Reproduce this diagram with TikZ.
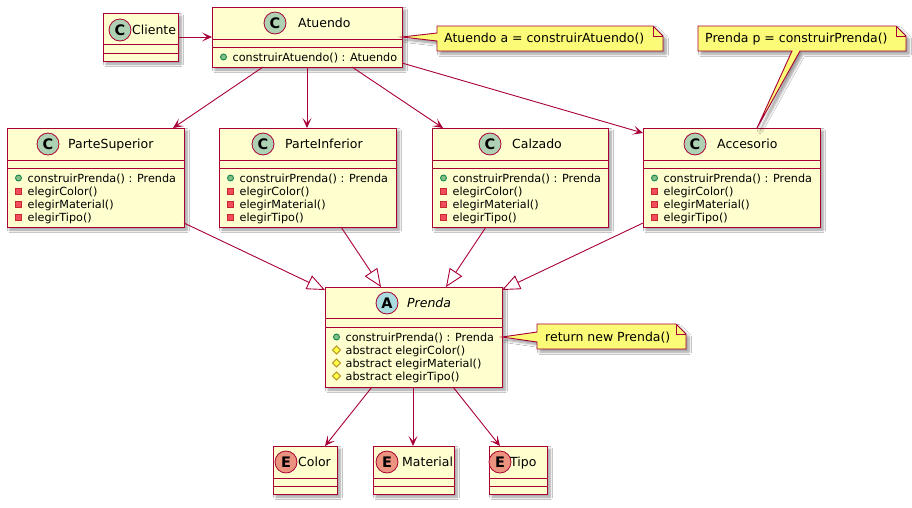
\documentclass[tikz,border=0pt]{standalone}
\usepackage{fontspec}
\setmainfont{DejaVu Sans}
\usetikzlibrary{arrows.meta,shadows.blur}
\definecolor{umlline}{HTML}{A80036}
\definecolor{umlfill}{HTML}{FEFECE}
\definecolor{notefill}{HTML}{FBFB77}
\definecolor{cfill}{HTML}{ADD1B2}
\definecolor{afill}{HTML}{A9DCDF}
\definecolor{efill}{HTML}{EB937F}
\definecolor{pubfill}{HTML}{84BE84}
\definecolor{pubdraw}{HTML}{038048}
\definecolor{privfill}{HTML}{F24D5C}
\definecolor{privdraw}{HTML}{C82930}
\definecolor{protfill}{HTML}{FFFF44}
\definecolor{protdraw}{HTML}{B38D22}
\tikzset{
  umlshadow/.style={blur shadow={shadow xshift=3pt, shadow yshift=-3pt, shadow blur radius=2.5pt, shadow blur steps=6, shadow opacity=40}},
  classbox/.style={rectangle, draw=umlline, fill=umlfill, line width=0.9pt, inner sep=0pt, outer sep=0pt, umlshadow},
  divline/.style={draw=umlline, line width=0.9pt},
  notebox/.style={draw=umlline, fill=notefill, line width=0.9pt, line join=miter, umlshadow},
  foldline/.style={draw=umlline, line width=0.9pt},
  anchorbox/.style={rectangle, inner sep=0pt, outer sep=0pt},
  stereo/.style={draw=umlline, line width=0.8pt},
  letter/.style={inner sep=0pt, font=\fontsize{14.5}{15}\selectfont\bfseries},
  ctitle/.style={inner sep=0pt, anchor=base west, font=\fontsize{12.5}{14}\selectfont},
  mtext/.style={inner sep=0pt, anchor=base west, font=\fontsize{11.2}{13}\selectfont},
  notetext/.style={inner sep=0pt, anchor=base west, font=\fontsize{12.5}{14}\selectfont},
  arr/.style={draw=umlline, line width=0.9pt, -{Stealth[length=10pt,width=9pt,inset=5pt]}},
  gen/.style={draw=umlline, line width=0.9pt, -{Triangle[length=18pt,width=15pt,fill=white]}},
}
% #1 name, #2 left, #3 top, #4 right, #5 div1, #6 div2, #7 bottom
\newcommand\umlclass[7]{%
  \node[classbox, anchor=north west, minimum width={(#4-#2)*1pt}, minimum height={(#7-#3)*1pt}] (#1) at (#2,#3) {};
  \draw[divline] (#2,#5) -- (#4,#5) (#2,#6) -- (#4,#6);
}
% #1 node name, #2 circle x, #3 center y, #4 fill, #5 letter, #6 name x, #7 text
\newcommand\umltitle[7]{%
  \filldraw[stereo, fill=#4] (#2,#3) circle (11pt);
  \node[letter] (#1L) at (#2,#3) {#5};
  \node[ctitle] (#1) at (#6,#3+4.6) {#7};
}
% #1 name, #2 left, #3 y, #4 text
\newcommand\mpub[4]{%
  \filldraw[draw=pubdraw, fill=pubfill, line width=0.8pt] (#2+11.5,#3) circle (3pt);
  \node[mtext] (#1) at (#2+20.5,#3+4) {#4};
}
\newcommand\mpriv[4]{%
  \filldraw[draw=privdraw, fill=privfill, line width=0.8pt] (#2+8.5,#3-3) rectangle (#2+14.5,#3+3);
  \node[mtext] (#1) at (#2+20.5,#3+4) {#4};
}
\newcommand\mprot[4]{%
  \filldraw[draw=protdraw, fill=protfill, line width=0.8pt] (#2+11.5,#3-4) -- (#2+15.5,#3) -- (#2+11.5,#3+4) -- (#2+7.5,#3) -- cycle;
  \node[mtext] (#1) at (#2+20.5,#3+4) {#4};
}
\newcommand\prendamembers[3]{% #1 prefix, #2 left, #3 first y
  \mpub{#11}{#2}{#3}{construirPrenda() : Prenda}
  \mpriv{#12}{#2}{#3+13}{elegirColor()}
  \mpriv{#13}{#2}{#3+26}{elegirMaterial()}
  \mpriv{#14}{#2}{#3+39}{elegirTipo()}
}
\begin{document}
\begin{tikzpicture}[x=1pt,y=-1pt]
\useasboundingbox (0,0) rectangle (912,507);
\fill[white] (0,0) rectangle (912,507);

% ---- classes
\umlclass{Cliente}{103}{13}{178}{44}{53}{61}
\umltitle{ClienteT}{120}{30}{cfill}{C}{132}{Cliente}

\umlclass{Atuendo}{212}{7}{402}{39}{47}{67}
\umltitle{AtuendoT}{275}{23}{cfill}{C}{298}{Atuendo}
\mpub{at1}{212}{57}{construirAtuendo() : Atuendo}

\umlclass{ParteSuperior}{7}{128}{184}{160}{168}{227}
\umltitle{ParteSuperiorT}{48}{144}{cfill}{C}{68}{ParteSuperior}
\prendamembers{ps}{7}{178}

\umlclass{ParteInferior}{219}{128}{396}{160}{168}{227}
\umltitle{ParteInferiorT}{263}{144}{cfill}{C}{285}{ParteInferior}
\prendamembers{pi}{219}{178}

\umlclass{Calzado}{432}{128}{608}{160}{168}{227}
\umltitle{CalzadoT}{490}{144}{cfill}{C}{512}{Calzado}
\prendamembers{ca}{432}{178}

\umlclass{Accesorio}{643}{128}{820}{160}{168}{227}
\umltitle{AccesorioT}{695}{144}{cfill}{C}{717}{Accesorio}
\prendamembers{ac}{643}{178}

\umlclass{Prenda}{325}{287}{502}{318}{327}{387}
\umltitle{PrendaT}{387}{303}{afill}{A}{407}{\itshape Prenda}
\mpub{pr1}{325}{337}{construirPrenda() : Prenda}
\mprot{pr2}{325}{350}{abstract elegirColor()}
\mprot{pr3}{325}{363}{abstract elegirMaterial()}
\mprot{pr4}{325}{376}{abstract elegirTipo()}

\umlclass{Color}{273}{446}{337}{478}{486}{494}
\umltitle{ColorT}{286}{462}{efill}{E}{298}{Color}
\umlclass{Material}{373}{446}{454}{478}{486}{494}
\umltitle{MaterialT}{387}{462}{efill}{E}{402}{Material}
\umlclass{Tipo}{489}{446}{547}{478}{486}{494}
\umltitle{TipoT}{500}{462}{efill}{E}{510}{Tipo}

% ---- notes
\node[anchorbox, anchor=north west, minimum width=226pt, minimum height=25pt] (n1) at (437,26) {};
\path[notebox] (n1.north west) -- ([xshift=-10pt]n1.north east) -- ([yshift=-10pt]n1.north east)
  -- (n1.south east) -- (n1.south west) -- (437,41) -- (Atuendo.east) -- (437,33) -- cycle;
\draw[foldline] ([xshift=-10pt]n1.north east) -- ([xshift=-10pt,yshift=-10pt]n1.north east) -- ([yshift=-10pt]n1.north east);
\node[notetext] (n1t) at (444,42.5) {Atuendo a = construirAtuendo()};

\node[anchorbox, anchor=north west, minimum width=208pt, minimum height=25pt] (n2) at (698,26) {};
\path[notebox] (n2.north west) -- ([xshift=-10pt]n2.north east) -- ([yshift=-10pt]n2.north east)
  -- (n2.south east) -- (800,51) -- (757,0 |- Accesorio.north) -- (792,51) -- (n2.south west) -- cycle;
\draw[foldline] ([xshift=-10pt]n2.north east) -- ([xshift=-10pt,yshift=-10pt]n2.north east) -- ([yshift=-10pt]n2.north east);
\node[notetext] (n2t) at (705,42.5) {Prenda p = construirPrenda()};

\node[anchorbox, anchor=north west, minimum width=149pt, minimum height=25pt] (n3) at (537,324) {};
\path[notebox] (n3.north west) -- ([xshift=-10pt]n3.north east) -- ([yshift=-10pt]n3.north east)
  -- (n3.south east) -- (n3.south west) -- (537,342) -- (Prenda.east |- 0,337) -- (537,332) -- cycle;
\draw[foldline] ([xshift=-10pt]n3.north east) -- ([xshift=-10pt,yshift=-10pt]n3.north east) -- ([yshift=-10pt]n3.north east);
\node[notetext] (n3t) at (545,341) {return new Prenda()};

% ---- associations
\draw[arr] (Cliente.east) -- (Atuendo.west);
\draw[arr] (263,0 |- Atuendo.south) -- (173,0 |- ParteSuperior.north);
\draw[arr] (307,0 |- Atuendo.south) -- (307,0 |- ParteInferior.north);
\draw[arr] (352,0 |- Atuendo.south) -- (443,0 |- Calzado.north);
\draw[arr] (Atuendo.east |- 0,63) -- (Accesorio.west |- 0,133);

% ---- generalizations
\draw[gen] (ParteSuperior.east |- 0,223) -- (Prenda.west |- 0,290);
\draw[gen] (341,0 |- ParteInferior.south) -- (381,0 |- Prenda.north);
\draw[gen] (486,0 |- Calzado.south) -- (446,0 |- Prenda.north);
\draw[gen] (Accesorio.west |- 0,223) -- (Prenda.east |- 0,290);

% ---- enum uses
\draw[arr] (372,0 |- Prenda.south) -- (325,0 |- Color.north);
\draw[arr] (413,0 |- Prenda.south) -- (413,0 |- Material.north);
\draw[arr] (453,0 |- Prenda.south) -- (500,0 |- Tipo.north);
\end{tikzpicture}
\end{document}
